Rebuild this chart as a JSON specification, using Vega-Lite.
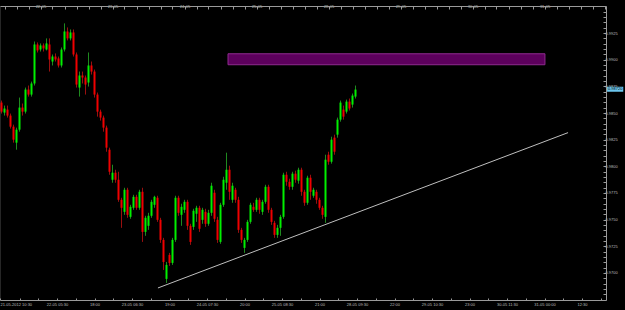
{
  "$schema": "https://vega.github.io/schema/vega-lite/v6.json",
  "width": 606,
  "height": 294,
  "autosize": {"type": "none"},
  "padding": {"left": 0, "top": 6, "right": 19, "bottom": 10},
  "background": "#000000",
  "config": {
    "view": {"stroke": "#262626"},
    "axis": {
      "domainColor": "#9a9a9a",
      "tickColor": "#9a9a9a",
      "labelColor": "#bdbdbd",
      "labelFont": "Liberation Sans",
      "labelFontSize": 4,
      "grid": false,
      "labelOverlap": false,
      "labelFlush": false,
      "labelBound": false
    }
  },
  "datasets": {
    "candles": [
      {"t":1,"o":0.98598,"h":0.98617,"l":0.98495,"c":0.98513},
      {"t":3,"o":0.98504,"h":0.98570,"l":0.98476,"c":0.98542},
      {"t":5,"o":0.98532,"h":0.98570,"l":0.98457,"c":0.98476},
      {"t":7,"o":0.98476,"h":0.98495,"l":0.98354,"c":0.98372},
      {"t":9,"o":0.98372,"h":0.98391,"l":0.98222,"c":0.98250},
      {"t":11,"o":0.98222,"h":0.98363,"l":0.98156,"c":0.98344},
      {"t":13,"o":0.98344,"h":0.98645,"l":0.98325,"c":0.98551},
      {"t":15,"o":0.98551,"h":0.98589,"l":0.98476,"c":0.98513},
      {"t":17,"o":0.98513,"h":0.98739,"l":0.98495,"c":0.98720},
      {"t":19,"o":0.98720,"h":0.98758,"l":0.98654,"c":0.98673},
      {"t":21,"o":0.98673,"h":0.98795,"l":0.98654,"c":0.98777},
      {"t":23,"o":0.98777,"h":0.99171,"l":0.98758,"c":0.99143},
      {"t":25,"o":0.99143,"h":0.99162,"l":0.99068,"c":0.99087},
      {"t":27,"o":0.99096,"h":0.99153,"l":0.99077,"c":0.99134},
      {"t":29,"o":0.99134,"h":0.99153,"l":0.99077,"c":0.99106},
      {"t":31,"o":0.99096,"h":0.99200,"l":0.99087,"c":0.99153},
      {"t":33,"o":0.99143,"h":0.99200,"l":0.98889,"c":0.99002},
      {"t":35,"o":0.98983,"h":0.99049,"l":0.98946,"c":0.99030},
      {"t":37,"o":0.99030,"h":0.99059,"l":0.98983,"c":0.99002},
      {"t":39,"o":0.99012,"h":0.99030,"l":0.98927,"c":0.98946},
      {"t":41,"o":0.98946,"h":0.99115,"l":0.98927,"c":0.99096},
      {"t":43,"o":0.99096,"h":0.99341,"l":0.99077,"c":0.99265},
      {"t":45,"o":0.99265,"h":0.99303,"l":0.99181,"c":0.99200},
      {"t":47,"o":0.99200,"h":0.99284,"l":0.99181,"c":0.99256},
      {"t":49,"o":0.99256,"h":0.99284,"l":0.99030,"c":0.99049},
      {"t":51,"o":0.99049,"h":0.99068,"l":0.98739,"c":0.98767},
      {"t":53,"o":0.98739,"h":0.98889,"l":0.98654,"c":0.98852},
      {"t":55,"o":0.98852,"h":0.98889,"l":0.98777,"c":0.98833},
      {"t":57,"o":0.98833,"h":0.98852,"l":0.98673,"c":0.98767},
      {"t":59,"o":0.98786,"h":0.99068,"l":0.98748,"c":0.98946},
      {"t":61,"o":0.98946,"h":0.98983,"l":0.98861,"c":0.98889},
      {"t":63,"o":0.98889,"h":0.98908,"l":0.98645,"c":0.98673},
      {"t":65,"o":0.98673,"h":0.98692,"l":0.98466,"c":0.98513},
      {"t":67,"o":0.98513,"h":0.98532,"l":0.98429,"c":0.98457},
      {"t":69,"o":0.98457,"h":0.98476,"l":0.98325,"c":0.98363},
      {"t":71,"o":0.98363,"h":0.98382,"l":0.98137,"c":0.98175},
      {"t":73,"o":0.98156,"h":0.98175,"l":0.97921,"c":0.97949},
      {"t":75,"o":0.97874,"h":0.98015,"l":0.97846,"c":0.97940},
      {"t":77,"o":0.97940,"h":0.97968,"l":0.97846,"c":0.97874},
      {"t":79,"o":0.97874,"h":0.97949,"l":0.97667,"c":0.97686},
      {"t":81,"o":0.97686,"h":0.97705,"l":0.97423,"c":0.97611},
      {"t":83,"o":0.97573,"h":0.97799,"l":0.97545,"c":0.97780},
      {"t":85,"o":0.97780,"h":0.97799,"l":0.97517,"c":0.97545},
      {"t":87,"o":0.97526,"h":0.97639,"l":0.97508,"c":0.97620},
      {"t":89,"o":0.97611,"h":0.97733,"l":0.97592,"c":0.97714},
      {"t":91,"o":0.97714,"h":0.97733,"l":0.97592,"c":0.97611},
      {"t":93,"o":0.97611,"h":0.97780,"l":0.97592,"c":0.97761},
      {"t":95,"o":0.97761,"h":0.97799,"l":0.97291,"c":0.97385},
      {"t":97,"o":0.97385,"h":0.97536,"l":0.97348,"c":0.97517},
      {"t":99,"o":0.97442,"h":0.97564,"l":0.97404,"c":0.97536},
      {"t":101,"o":0.97536,"h":0.97686,"l":0.97517,"c":0.97667},
      {"t":103,"o":0.97639,"h":0.97724,"l":0.97611,"c":0.97714},
      {"t":105,"o":0.97705,"h":0.97724,"l":0.97479,"c":0.97498},
      {"t":107,"o":0.97498,"h":0.97517,"l":0.97282,"c":0.97310},
      {"t":109,"o":0.97310,"h":0.97329,"l":0.97028,"c":0.97103},
      {"t":111,"o":0.96944,"h":0.97103,"l":0.96906,"c":0.97075},
      {"t":113,"o":0.97169,"h":0.97188,"l":0.97066,"c":0.97094},
      {"t":115,"o":0.97094,"h":0.97329,"l":0.97075,"c":0.97310},
      {"t":117,"o":0.97310,"h":0.97724,"l":0.97291,"c":0.97705},
      {"t":119,"o":0.97705,"h":0.97724,"l":0.97536,"c":0.97564},
      {"t":121,"o":0.97545,"h":0.97649,"l":0.97442,"c":0.97620},
      {"t":123,"o":0.97592,"h":0.97686,"l":0.97564,"c":0.97667},
      {"t":125,"o":0.97667,"h":0.97686,"l":0.97404,"c":0.97442},
      {"t":127,"o":0.97442,"h":0.97461,"l":0.97263,"c":0.97291},
      {"t":129,"o":0.97432,"h":0.97602,"l":0.97404,"c":0.97583},
      {"t":131,"o":0.97555,"h":0.97630,"l":0.97479,"c":0.97611},
      {"t":133,"o":0.97611,"h":0.97630,"l":0.97385,"c":0.97414},
      {"t":135,"o":0.97498,"h":0.97611,"l":0.97461,"c":0.97592},
      {"t":137,"o":0.97573,"h":0.97602,"l":0.97432,"c":0.97461},
      {"t":139,"o":0.97461,"h":0.97592,"l":0.97442,"c":0.97564},
      {"t":141,"o":0.97564,"h":0.97846,"l":0.97536,"c":0.97818},
      {"t":143,"o":0.97752,"h":0.97780,"l":0.97479,"c":0.97508},
      {"t":145,"o":0.97498,"h":0.97526,"l":0.97282,"c":0.97310},
      {"t":147,"o":0.97291,"h":0.97658,"l":0.97273,"c":0.97639},
      {"t":149,"o":0.97639,"h":0.97902,"l":0.97620,"c":0.97874},
      {"t":151,"o":0.97846,"h":0.98128,"l":0.97780,"c":0.97968},
      {"t":153,"o":0.97968,"h":0.98006,"l":0.97686,"c":0.97761},
      {"t":155,"o":0.97686,"h":0.97846,"l":0.97658,"c":0.97818},
      {"t":157,"o":0.97780,"h":0.97799,"l":0.97658,"c":0.97686},
      {"t":159,"o":0.97686,"h":0.97714,"l":0.97376,"c":0.97404},
      {"t":161,"o":0.97404,"h":0.97423,"l":0.97282,"c":0.97310},
      {"t":163,"o":0.97235,"h":0.97329,"l":0.97188,"c":0.97310},
      {"t":165,"o":0.97310,"h":0.97498,"l":0.97291,"c":0.97479},
      {"t":167,"o":0.97479,"h":0.97658,"l":0.97461,"c":0.97639},
      {"t":169,"o":0.97620,"h":0.97658,"l":0.97573,"c":0.97592},
      {"t":171,"o":0.97592,"h":0.97705,"l":0.97573,"c":0.97686},
      {"t":173,"o":0.97686,"h":0.97705,"l":0.97555,"c":0.97592},
      {"t":175,"o":0.97573,"h":0.97686,"l":0.97545,"c":0.97667},
      {"t":177,"o":0.97667,"h":0.97827,"l":0.97649,"c":0.97808},
      {"t":179,"o":0.97808,"h":0.97827,"l":0.97564,"c":0.97592},
      {"t":181,"o":0.97592,"h":0.97611,"l":0.97451,"c":0.97479},
      {"t":183,"o":0.97470,"h":0.97489,"l":0.97329,"c":0.97357},
      {"t":185,"o":0.97357,"h":0.97451,"l":0.97329,"c":0.97423},
      {"t":187,"o":0.97423,"h":0.97545,"l":0.97348,"c":0.97526},
      {"t":189,"o":0.97526,"h":0.97940,"l":0.97508,"c":0.97921},
      {"t":191,"o":0.97921,"h":0.97949,"l":0.97818,"c":0.97855},
      {"t":193,"o":0.97855,"h":0.97884,"l":0.97780,"c":0.97808},
      {"t":195,"o":0.97808,"h":0.97949,"l":0.97780,"c":0.97931},
      {"t":197,"o":0.97931,"h":0.97959,"l":0.97846,"c":0.97874},
      {"t":199,"o":0.97865,"h":0.97987,"l":0.97837,"c":0.97968},
      {"t":201,"o":0.97968,"h":0.97987,"l":0.97724,"c":0.97761},
      {"t":203,"o":0.97761,"h":0.97780,"l":0.97630,"c":0.97658},
      {"t":205,"o":0.97658,"h":0.97912,"l":0.97639,"c":0.97893},
      {"t":207,"o":0.97893,"h":0.97921,"l":0.97686,"c":0.97761},
      {"t":209,"o":0.97724,"h":0.97799,"l":0.97705,"c":0.97780},
      {"t":211,"o":0.97761,"h":0.97780,"l":0.97649,"c":0.97686},
      {"t":213,"o":0.97686,"h":0.97705,"l":0.97592,"c":0.97611},
      {"t":215,"o":0.97611,"h":0.97630,"l":0.97508,"c":0.97545},
      {"t":217,"o":0.97526,"h":0.98109,"l":0.97470,"c":0.98062},
      {"t":219,"o":0.98109,"h":0.98137,"l":0.98015,"c":0.98043},
      {"t":221,"o":0.98043,"h":0.98278,"l":0.98025,"c":0.98250},
      {"t":223,"o":0.98269,"h":0.98297,"l":0.98109,"c":0.98137},
      {"t":225,"o":0.98297,"h":0.98457,"l":0.98269,"c":0.98438},
      {"t":227,"o":0.98438,"h":0.98617,"l":0.98419,"c":0.98598},
      {"t":229,"o":0.98532,"h":0.98570,"l":0.98438,"c":0.98466},
      {"t":231,"o":0.98513,"h":0.98626,"l":0.98495,"c":0.98607},
      {"t":233,"o":0.98607,"h":0.98636,"l":0.98523,"c":0.98542},
      {"t":235,"o":0.98579,"h":0.98683,"l":0.98551,"c":0.98664},
      {"t":237,"o":0.98654,"h":0.98758,"l":0.98636,"c":0.98720}
    ],
    "zone": [{"t0": 152, "t1": 363.3, "p0": 0.98953, "p1": 0.99056}],
    "trend": [{"t": 105.3, "p": 0.96859}, {"t": 378.7, "p": 0.98316}],
    "bid": [{"p": 0.98723, "label": "0.98720"}]
  },
  "resolve": {"axis": {"x": "independent", "y": "shared"}},
  "layer": [
    {
      "data": {"name": "zone"},
      "mark": {"type": "rect", "fill": "#5c005c", "stroke": "#8e2a8e", "strokeWidth": 1, "clip": true},
      "encoding": {
        "x": {"field": "t0", "type": "quantitative", "scale": {"domain": [0, 404], "nice": false, "zero": false, "padding": 0}, "axis": null, "title": null},
        "x2": {"field": "t1"},
        "y": {
          "field": "p0", "type": "quantitative", "title": null,
          "scale": {"domain": [0.96746, 0.99504], "nice": false, "zero": false, "padding": 0},
          "axis": {
            "orient": "right",
            "values": [0.968, 0.9685, 0.969, 0.9695, 0.97, 0.9705, 0.971, 0.9715, 0.972, 0.9725, 0.973, 0.9735, 0.974, 0.9745, 0.975, 0.9755, 0.976, 0.9765, 0.977, 0.9775, 0.978, 0.9785, 0.979, 0.9795, 0.98, 0.9805, 0.981, 0.9815, 0.982, 0.9825, 0.983, 0.9835, 0.984, 0.9845, 0.985, 0.9855, 0.986, 0.9865, 0.987, 0.9875, 0.988, 0.9885, 0.989, 0.9895, 0.99, 0.9905, 0.991, 0.9915, 0.992, 0.9925, 0.993, 0.9935, 0.994, 0.9945],
            "tickCount": 500,
            "labelExpr": "round(datum.value * 10000) % 25 == 0 ? format(datum.value, '.4f') : ''",
            "labelOverlap": false,
            "tickSize": -3,
            "labelPadding": 2
          }
        },
        "y2": {"field": "p1"}
      }
    },
    {
      "data": {"name": "trend"},
      "mark": {"type": "line", "color": "#bfbfbf", "strokeWidth": 1, "clip": true},
      "encoding": {
        "x": {
          "field": "t", "type": "quantitative", "title": null,
          "axis": {
            "orient": "top",
            "values": [3, 11, 19, 27, 35, 43, 51, 59, 67, 75, 83, 91, 99, 107, 115, 123, 131, 139, 147, 155, 163, 171, 179, 187, 195, 203, 211, 219, 227, 235, 243, 251, 259, 267, 275, 283, 291, 299, 307, 315, 323, 331, 339, 347, 355, 363, 371, 379, 387, 395, 403],
            "tickCount": 500,
            "labelExpr": "['22-05','23-05','24-05','25-05','28-05','29-05','30-05','31-05'][indexof([27,75,123,171,219,267,315,363], datum.value)] || ''",
            "labelOverlap": false,
            "tickSize": -3,
            "labelPadding": 1,
            "labelBaseline": "bottom"
          }
        },
        "y": {"field": "p", "type": "quantitative", "title": null}
      }
    },
    {
      "data": {"name": "candles"},
      "mark": {"type": "rule", "strokeWidth": 1, "clip": true},
      "encoding": {
        "x": {"field": "t", "type": "quantitative", "axis": null, "title": null},
        "y": {"field": "l", "type": "quantitative", "title": null},
        "y2": {"field": "h"},
        "color": {"condition": {"test": "datum.c >= datum.o", "value": "#1f8a1f"}, "value": "#9a0f0f"}
      }
    },
    {
      "data": {"name": "candles"},
      "mark": {"type": "bar", "width": 2, "clip": true},
      "encoding": {
        "x": {
          "field": "t", "type": "quantitative", "title": null,
          "axis": {
            "orient": "bottom",
            "values": [0, 13, 25.5, 38, 50.5, 63, 75.5, 88, 100.5, 113, 125.5, 138, 150.5, 163, 175.5, 188, 200.5, 213, 225.5, 238, 250.5, 263, 275.5, 288, 300.5, 313, 325.5, 338, 350.5, 363, 375.5, 388, 400.5],
            "tickCount": 500,
            "labelExpr": "['21-05-2012 10:30','22-05 05:30','18:00','23-05 06:30','19:00','24-05 07:30','20:00','25-05 08:30','21:00','28-05 09:30','22:00','29-05 10:30','23:00','30-05 11:30','31-05 00:00','12:30'][indexof([0,38,63,88,113,138,163,188,213,238,263,288,313,338,363,388], datum.value)] || ''",
            "labelAlign": {"condition": {"test": "datum.value == 0", "value": "left"}, "value": "center"},
            "labelOverlap": false,
            "tickSize": -2,
            "labelPadding": 4
          }
        },
        "y": {"field": "o", "type": "quantitative", "title": null},
        "y2": {"field": "c"},
        "color": {"condition": {"test": "datum.c >= datum.o", "value": "#00f000"}, "value": "#f00000"}
      }
    },
    {
      "data": {"name": "bid"},
      "mark": {"type": "bar", "height": 5, "color": "#6cc6ee", "clip": false},
      "encoding": {
        "x": {"datum": 404.7, "type": "quantitative", "axis": null},
        "x2": {"datum": 415.5},
        "y": {"field": "p", "type": "quantitative", "title": null}
      }
    },
    {
      "data": {"name": "bid"},
      "mark": {"type": "text", "fontSize": 4, "font": "Liberation Sans", "color": "#000000", "align": "center", "baseline": "middle", "clip": false},
      "encoding": {
        "x": {"datum": 410.1, "type": "quantitative", "axis": null},
        "y": {"field": "p", "type": "quantitative", "title": null},
        "text": {"field": "label"}
      }
    }
  ]
}
